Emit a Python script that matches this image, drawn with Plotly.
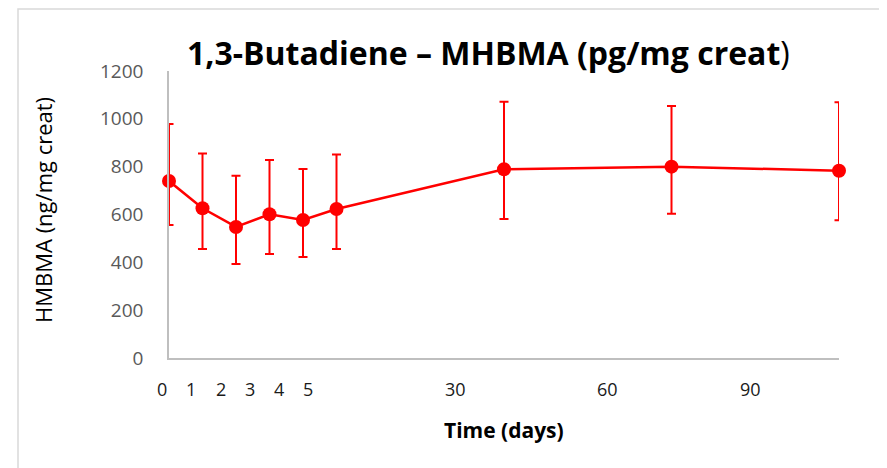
import plotly.graph_objects as go

# Data
x_pos = [0, 1, 2, 3, 4, 5, 10, 15, 20]          # plotted category positions
mean_vals = [740, 626, 548, 601, 577, 623, 789, 800, 783]
err_plus = [238, 229, 214, 227, 213, 228, 282, 254, 286]
err_minus = [184, 170, 155, 166, 155, 167, 208, 197, 207]

tick_labels = ["0", "1", "2", "3", "4", "5", "30", "60", "90"]
tick_label_px = [162, 191, 221, 250, 279, 308, 455, 607, 750]

y_ticks = [0, 200, 400, 600, 800, 1000, 1200]

RED = "#FF0000"
FONT = "Open Sans"

# page geometry (browser body has an 8px margin)
OFF = 8
PL, PR, PT, PB = 169, 839, 71, 358   # plot area in page pixels
W, H = 887 - OFF, 468 - OFF


def px(x):
    return (x - PL) / (PR - PL)


def py(y):
    return (PB - y) / (PB - PT)


fig = go.Figure()
fig.add_trace(go.Scatter(
    x=x_pos, y=mean_vals,
    mode="lines+markers",
    line=dict(color=RED, width=2.5),
    marker=dict(color=RED, size=14),
    error_y=dict(type="data", symmetric=False, array=err_plus, arrayminus=err_minus,
                 color=RED, thickness=2, width=4.5),
    showlegend=False,
    cliponaxis=False,
))

annotations = []
for lab, p in zip(tick_labels, tick_label_px):
    annotations.append(dict(x=px(p), y=py(389), xref="paper", yref="paper",
                            xanchor="center", yanchor="middle",
                            text=lab, showarrow=False,
                            font=dict(family=FONT, size=18, color="#1a1a1a")))

annotations.append(dict(x=px(504), y=py(430), xref="paper", yref="paper",
                        xanchor="center", yanchor="middle",
                        text="<b>Time (days)</b>", showarrow=False,
                        font=dict(family=FONT, size=21, color="#000000")))
annotations.append(dict(x=px(43), y=py(210), xref="paper", yref="paper",
                        xanchor="center", yanchor="middle",
                        text="HMBMA (ng/mg creat)", showarrow=False, textangle=-90,
                        font=dict(family=FONT, size=22, color="#000000")))
annotations.append(dict(x=px(488), y=py(52), xref="paper", yref="paper",
                        xanchor="center", yanchor="middle",
                        text="<b>1,3-Butadiene – MHBMA (pg/mg creat</b>)", showarrow=False,
                        font=dict(family=FONT, size=32, color="#000000")))

fig.update_layout(
    width=W, height=H,
    margin=dict(l=PL - OFF, r=W - (PR - OFF), t=PT - OFF, b=H - (PB - OFF)),
    paper_bgcolor="white", plot_bgcolor="white",
    annotations=annotations,
    shapes=[dict(type="rect", xref="paper", yref="paper",
                 x0=px(18), x1=px(880), y0=py(480), y1=py(9),
                 line=dict(color="#d9d9d9", width=1.5), layer="below")],
    xaxis=dict(range=[0, 20], showgrid=False, zeroline=False, showticklabels=False,
               showline=True, linecolor="#bfbfbf", linewidth=1.5, ticks=""),
    yaxis=dict(range=[0, 1200], tickvals=y_ticks, showgrid=False, zeroline=False,
               showline=True, linecolor="#bfbfbf", linewidth=1.5, ticks="",
               tickfont=dict(family=FONT, size=19, color="#595959"),
               ticklabelstandoff=20),
)

fig.write_html("out.html")
